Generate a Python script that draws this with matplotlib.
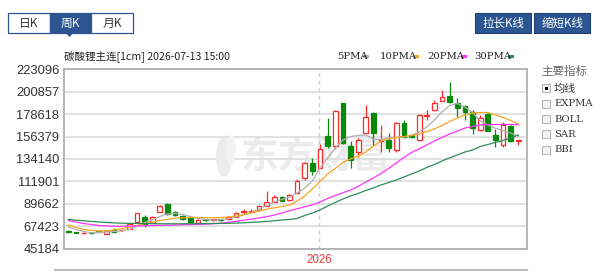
import matplotlib
matplotlib.use("Agg")
import matplotlib.pyplot as plt
from matplotlib.patches import Rectangle, Polygon, Ellipse
import numpy as np

plt.rcParams['font.family'] = ['Liberation Sans', 'Noto Sans CJK SC', 'DejaVu Sans']

# ---------------- data ----------------
title = "碳酸锂主连[1cm] 2026-07-13 15:00"
y_ticks = [45184, 67423, 89662, 111901, 134140, 156379, 178618, 200857, 223096]
year_label = "2026"
year_index = 33

opens = [62450, 61350, 60450, 61050, 62250, 59800, 63750, 63450, 64450, 71350,
         76900, 71000, 81900, 89500, 81900, 77600, 75650, 70700, 74150, 73650,
         74150, 74350, 76900, 81100, 81900, 83550, 87800, 91800, 96750, 93450,
         100100, 115300, 129650, 124900, 156900, 147000, 189300, 146500, 141050, 160350,
         179700, 151950, 152950, 142600, 169500, 157900, 152950, 176700, 182650, 192000,
         196500, 189300, 186600, 181000, 163100, 178400, 158100, 147950, 167100, 151650]
closes = [61750, 60800, 61050, 60450, 61750, 63050, 61750, 64050, 69700, 80300,
          69700, 76900, 87800, 79600, 78600, 74350, 71950, 73650, 73650, 74150,
          73650, 76900, 80300, 82100, 82900, 87800, 91800, 96750, 92800, 98400,
          112600, 130450, 122200, 143700, 147000, 182000, 149650, 133100, 152950, 176000,
          159850, 152950, 144700, 170000, 156200, 156200, 177700, 177700, 189300, 195850,
          190900, 184350, 181000, 165100, 174450, 161850, 152950, 167800, 151950, 152450]
highs = [63250, 61750, 61750, 61750, 62750, 63750, 65400, 64750, 70200, 80600,
         78600, 77600, 88500, 90500, 82600, 78100, 76150, 74150, 74650, 74650,
         74650, 77600, 81100, 85000, 84550, 88500, 102700, 98400, 97450, 99400,
         114300, 131100, 134600, 148950, 174400, 182650, 189600, 151950, 154900, 188100,
         180700, 167800, 159850, 170770, 172750, 158900, 178700, 182650, 192500, 202500,
         210100, 194250, 187600, 182650, 177700, 179200, 163850, 171050, 167800, 152950]
lows = [60750, 60300, 59800, 59800, 61250, 59300, 61250, 62750, 64250, 70700,
        67000, 70200, 81600, 78600, 77600, 73650, 71200, 70200, 72650, 72650,
        72650, 73650, 76600, 80600, 81600, 83050, 87500, 91300, 92300, 92950,
        99400, 113300, 118200, 124700, 144700, 144000, 148950, 125000, 136100, 159850,
        148000, 141350, 141050, 141050, 155000, 155000, 151950, 172750, 181700, 191600,
        189300, 176000, 172750, 158600, 161850, 161350, 146300, 146300, 150950, 147950]

ma5 = [66716, 64238, 62256, 60968, 61265, 61761, 62256, 62752, 64238, 67707,
       71175, 73653, 77122, 79599, 80095, 79104, 77122, 75140, 74149, 73653,
       73851, 74842, 76626, 78608, 81086, 84554, 88022, 91491, 93968, 96446,
       100410, 105365, 112302, 125185, 135095, 145005, 152933, 156401, 157392, 157888,
       153924, 153428, 154915, 155410, 155906, 157392, 160861, 165816, 172753, 180681,
       187122, 189104, 185636, 180186, 171762, 167798, 164528, 162348, 159870, 156897]
ma10 = [68698, 66221, 64238, 63247, 62752, 62950, 63743, 64932, 66419, 68203,
        69887, 71374, 73158, 74347, 75338, 75833, 76131, 76131, 75833, 75833,
        76131, 76626, 77320, 79104, 80788, 82572, 84257, 85743, 87032, 88320,
        92482, 97437, 104374, 111806, 119239, 124689, 130635, 134104, 137077, 141041,
        146987, 151942, 153924, 155410, 156401, 157392, 158879, 161356, 163834, 167302,
        171266, 174735, 177708, 179690, 180186, 180186, 177708, 175231, 172258, 168789]
ma20 = [73158, 71671, 70185, 69194, 68203, 67707, 67410, 67410, 67509, 67707,
        67905, 68104, 68302, 68500, 68698, 68896, 69094, 69293, 69491, 69887,
        70482, 71275, 72365, 73455, 74446, 75635, 76923, 78608, 80590, 82770,
        84752, 86734, 88518, 91491, 94959, 97932, 100608, 103383, 106851, 111311,
        115275, 119735, 124690, 130140, 135590, 140546, 144014, 147978, 151942, 155410,
        158879, 161852, 164825, 166312, 167798, 168294, 168294, 168294, 168294, 168294]
ma30 = [74149, 73455, 72860, 72266, 71671, 71175, 70779, 70482, 70284, 70185,
        70085, 69986, 69887, 69887, 69887, 69887, 69986, 69986, 70085, 70185,
        70284, 70383, 70581, 70878, 71275, 71671, 72167, 72860, 73653, 74149,
        75140, 78113, 80590, 83563, 87527, 90995, 94464, 97437, 99915, 102888,
        105365, 108338, 110815, 113293, 116266, 119239, 122212, 125680, 128653, 132122,
        135293, 138068, 141041, 143023, 146492, 148474, 150456, 152438, 154915, 157888]

ma_names = ["5PMA", "10PMA", "20PMA", "30PMA"]
ma_colors = ["#b0b0b0", "#f5a623", "#ff33ff", "#2e8b57"]
indicators = ["均线", "EXPMA", "BOLL", "SAR", "BBI"]

# ---------------- figure ----------------
W, H = 600, 271
fig = plt.figure(figsize=(W / 100, H / 100), dpi=100)
fig.patch.set_facecolor("white")

def fx(x):
    return x / W

def fy(y):
    return 1 - y / H

ax_l, ax_r, ax_t, ax_b = 63.5, 526.7, 69.2, 248.7
ax = fig.add_axes([fx(ax_l), fy(ax_b), (ax_r - ax_l) / W, (ax_b - ax_t) / H])
n = len(opens)
idx = np.arange(n)
ax.set_xlim(-0.63, 60.1)
ax.set_ylim(y_ticks[0], y_ticks[-1])
ax.set_yticks(y_ticks)
ax.set_yticklabels([str(v) for v in y_ticks], fontsize=9.3, color="#333333")
ax.tick_params(axis="y", length=0, pad=3)
ax.set_xticks([])
ax.grid(axis="y", color="#dcdcdc", linewidth=1.2)
ax.set_axisbelow(True)
for s in ax.spines.values():
    s.set_color("#b0b0b0")
    s.set_linewidth(1.3)

# watermark (logo + text)
fig.patches.append(Ellipse((fx(224), fy(157)), 16 / W, 40 / H, angle=0,
                           transform=fig.transFigure, facecolor="#ececec", edgecolor="none", zorder=0.5))
fig.patches.append(Ellipse((fx(231), fy(150)), 10 / W, 30 / H, angle=0,
                           transform=fig.transFigure, facecolor="#f3f3f3", edgecolor="none", zorder=0.5))
ax.text(fx(316) , fy(157), "东方财富", transform=fig.transFigure, fontsize=27, color="#ebebeb",
        fontweight="bold", ha="center", va="center", family=["Noto Sans CJK SC"], zorder=0)

# year separator
ax.axvline(year_index - 0.07, color="#cccccc", linestyle=(0, (3, 3)), linewidth=0.9, zorder=1)
fig.text(fx(319), fy(260), year_label, color="#e83a3a", fontsize=8.3, ha="center", va="center")

# candles
up_col, dn_col = "#ff2a2a", "#0a8a0a"
bw = 0.62
for i in range(n):
    o, c, h, l = opens[i], closes[i], highs[i], lows[i]
    up = c >= o
    col = up_col if up else dn_col
    lo, hi = min(o, c), max(o, c)
    ax.vlines(i, l, lo, color=col, linewidth=0.9, zorder=3)
    ax.vlines(i, hi, h, color=col, linewidth=0.9, zorder=3)
    height = max(hi - lo, 300)
    ax.add_patch(Rectangle((i - bw / 2, lo), bw, height,
                           facecolor="white" if up else col, edgecolor=col,
                           linewidth=0.9, zorder=3))

for vals, colr in zip([ma5, ma10, ma20, ma30], ma_colors):
    ax.plot(idx, vals, color=colr, linewidth=0.9, zorder=4)

# title and legend
fig.text(fx(64), fy(56.5), title, fontsize=7.6, color="#222222", va="center",
         family=["Noto Sans CJK SC", "DejaVu Sans"])
lx = [337, 380, 427, 474]
bx = [363, 413, 461, 508]
for name, x0, b0, colr in zip(ma_names, lx, bx, ma_colors):
    fig.text(fx(x0), fy(56.5), name, fontsize=7.2, color="#222222", va="center",
             family=["DejaVu Serif"])
    fig.patches.append(Rectangle((fx(b0), fy(58)), 6 / W, 3 / H, transform=fig.transFigure,
                                 facecolor=colr, edgecolor="none"))

# tabs top-left
blue = "#2c5591"
tabs = ["日K", "周K", "月K"]
tx = [8, 49.5, 91, 133]
for k, t in enumerate(tabs):
    sel = (k == 1)
    fig.patches.append(Rectangle((fx(tx[k]), fy(33)), (tx[k + 1] - tx[k]) / W, 20 / H,
                                 transform=fig.transFigure,
                                 facecolor=blue if sel else "white", edgecolor=blue, linewidth=0.9))
    fig.text(fx((tx[k] + tx[k + 1]) / 2), fy(23), t, fontsize=8.5,
             color="white" if sel else "#333333", ha="center", va="center",
             family=["Noto Sans CJK SC", "DejaVu Sans"])
fig.patches.append(Polygon([[fx(65.5), fy(32.9)], [fx(73.5), fy(32.9)], [fx(69.5), fy(37)]],
                           closed=True, transform=fig.transFigure, facecolor=blue, edgecolor="none"))

# buttons top-right
for x0, x1, t in [(475, 531, "拉长K线"), (534, 590, "缩短K线")]:
    fig.patches.append(Rectangle((fx(x0), fy(33)), (x1 - x0) / W, 20 / H, transform=fig.transFigure,
                                 facecolor=blue, edgecolor="#1d3f73", linewidth=0.8))
    fig.text(fx((x0 + x1) / 2), fy(23), t, fontsize=8.3, color="white", ha="center", va="center",
             family=["Noto Sans CJK SC", "DejaVu Sans"])

# indicator panel
fig.text(fx(541), fy(71), "主要指标", fontsize=8.3, color="#666666", va="center",
         family=["Noto Sans CJK SC"])
for k, t in enumerate(indicators):
    yy = 88.5 + k * 15.3
    fig.patches.append(Rectangle((fx(542), fy(yy + 4)), 8 / W, 8 / H, transform=fig.transFigure,
                                 facecolor="#f4f4f4", edgecolor="#b8b8b8", linewidth=0.8))
    if k == 0:
        fig.patches.append(Rectangle((fx(544.5), fy(yy + 1.5)), 3 / W, 3 / H, transform=fig.transFigure,
                                     facecolor="black", edgecolor="none"))
    fig.text(fx(554), fy(yy), t, fontsize=8 if k == 0 else 7.2, color="#333333", va="center",
             family=["Noto Sans CJK SC"] if k == 0 else ["DejaVu Serif"])

# lower panel top border
fig.add_artist(plt.Line2D([fx(55), fx(527)], [fy(270), fy(270)], color="#bbbbbb", linewidth=1.5))

fig.savefig("out.png", dpi=100, facecolor="white")
